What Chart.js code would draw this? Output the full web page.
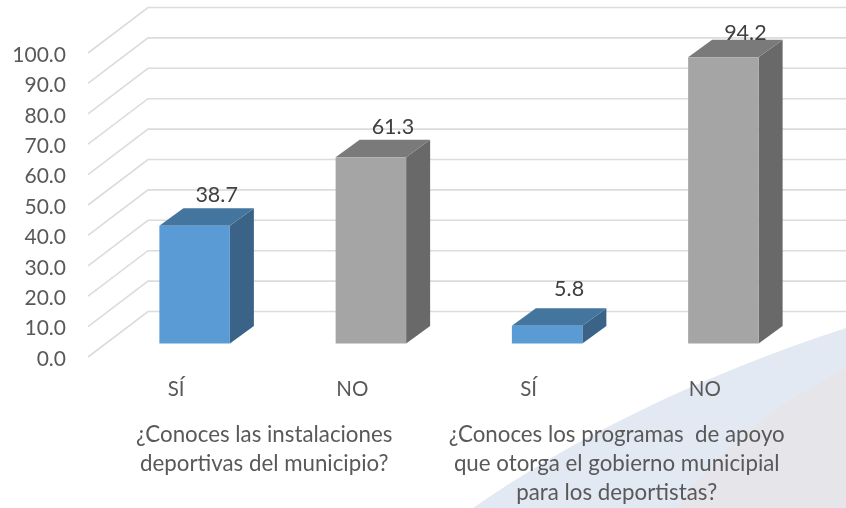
<!DOCTYPE html>
<html><head><meta charset="utf-8">
<style>html,body{margin:0;padding:0;background:#fff}#w{width:846px;height:508px}</style>
<script src="https://cdn.jsdelivr.net/npm/chart.js@4"></script>
</head><body><div id="w"><canvas id="c" width="846" height="508"></canvas></div>
<script>
const categories = ['SÍ','NO','SÍ','NO'];
const questions = [
  ['¿Conoces las instalaciones','deportivas del municipio?'],
  ['¿Conoces los programas  de apoyo','que otorga el gobierno municipial','para los deportistas?']
];
const percentages = [38.7,61.3,5.8,94.2];
const valueLabels = ['38.7','61.3','5.8','94.2'];
const labelLift = [13,13,19,7];
const faces = {
  blue:{front:'#5B9BD5',side:'#3A6387',top:'#44759F'},
  grey:{front:'#A5A5A5',side:'#696969',top:'#7A7A7A'}
};
const barKinds = ['blue','grey','blue','grey'];
const FONT = 'Lato';
const wall = {dx:60,dy:45.5};
const barShift = {dx:18.5,dy:13.5};
const barDepth = {dx:24,dy:17.5};

const threeD = {
  id:'threeD',
  beforeDraw(chart){
    const {ctx,width:W,height:H}=chart;
    ctx.save();
    ctx.fillStyle='#fff';ctx.fillRect(0,0,W,H);
    ctx.fillStyle='#E3E9F3';
    ctx.beginPath();ctx.moveTo(473,508);
    ctx.bezierCurveTo(570,440,700,375,846,328);
    ctx.lineTo(846,508);ctx.closePath();ctx.fill();
    ctx.fillStyle='#E6E5EA';
    ctx.beginPath();ctx.moveTo(678,508);
    ctx.bezierCurveTo(715,450,775,405,846,368);
    ctx.lineTo(846,508);ctx.closePath();ctx.fill();
    ctx.restore();
  },
  beforeDatasetsDraw(chart){
    const {ctx,scales:{x,y}}=chart;
    ctx.save();
    ctx.strokeStyle='#DCDCDC';ctx.lineWidth=1.6;
    y.ticks.forEach(t=>{
      const p=y.getPixelForValue(t.value);
      ctx.beginPath();
      ctx.moveTo(x.left,p);
      ctx.lineTo(x.left+wall.dx,p-wall.dy);
      ctx.lineTo(chart.width,p-wall.dy);
      ctx.stroke();
    });
    const m=chart.getDatasetMeta(0);
    m.data.forEach((b,i)=>{
      const f=faces[barKinds[i]];
      const hw=b.width/2, l=b.x-hw+barShift.dx, r=b.x+hw+barShift.dx;
      const t=b.y-barShift.dy, bt=b.base-barShift.dy;
      ctx.fillStyle=f.side;
      ctx.beginPath();ctx.moveTo(r,t);ctx.lineTo(r+barDepth.dx,t-barDepth.dy);
      ctx.lineTo(r+barDepth.dx,bt-barDepth.dy);ctx.lineTo(r,bt);ctx.closePath();ctx.fill();
      ctx.fillStyle=f.top;
      ctx.beginPath();ctx.moveTo(l,t);ctx.lineTo(l+barDepth.dx,t-barDepth.dy);
      ctx.lineTo(r+barDepth.dx,t-barDepth.dy);ctx.lineTo(r,t);ctx.closePath();ctx.fill();
    });
    ctx.restore();
    ctx.save();
    ctx.translate(barShift.dx,-barShift.dy);
  },
  afterDatasetsDraw(chart){
    const {ctx}=chart;
    ctx.restore();
    const m=chart.getDatasetMeta(0);
    ctx.save();
    ctx.font='21.5px '+FONT;ctx.fillStyle='#404040';
    ctx.textAlign='center';ctx.textBaseline='middle';
    m.data.forEach((b,i)=>{
      ctx.fillText(valueLabels[i],b.x+barShift.dx+22,b.y-barShift.dy-barDepth.dy-labelLift[i]);
    });
    ctx.restore();
  }
};

new Chart(document.getElementById('c'),{
  type:'bar',
  data:{labels:categories,datasets:[{
    data:percentages,
    backgroundColor:barKinds.map(k=>faces[k].front),
    borderWidth:0,
    clip:false,
    barPercentage:0.4,
    categoryPercentage:1
  }]},
  plugins:[threeD],
  options:{
    responsive:false,animation:false,
    layout:{padding:{top:53,right:53,bottom:0,left:0}},
    plugins:{legend:{display:false},tooltip:{enabled:false}},
    scales:{
      y:{min:0,max:100,
        afterFit(s){s.width=88},
        border:{display:false},
        grid:{display:false,drawTicks:false},
        ticks:{stepSize:10,padding:22,labelOffset:2,color:'#595959',font:{family:FONT,size:21},
          callback:v=>v.toFixed(1)}},
      x:{position:'bottom',
        afterFit(s){s.height=60},
        border:{display:false},
        grid:{display:false,drawTicks:false},
        ticks:{padding:20,maxRotation:0,autoSkip:false,color:'#595959',font:{family:FONT,size:20.5}}},
      q:{type:'category',labels:questions,position:'bottom',axis:'x',
        afterFit(s){s.height=91},
        border:{display:false},
        grid:{display:false,drawTicks:false},
        ticks:{padding:3,maxRotation:0,autoSkip:false,color:'#595959',font:{family:FONT,size:22.3,lineHeight:1.3}}}
    }
  }
});
</script></body></html>
